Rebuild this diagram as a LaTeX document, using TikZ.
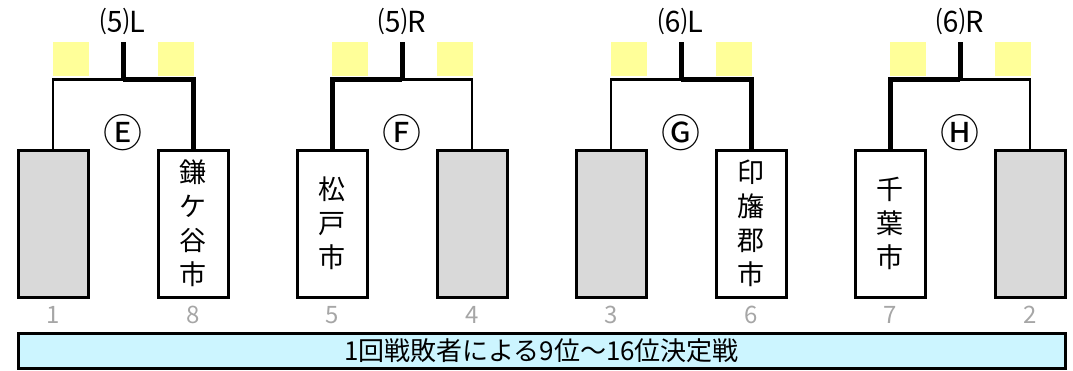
\documentclass[tikz,border=0pt]{standalone}
\usepackage{fontspec}
\setmainfont{Noto Sans CJK JP}
\usepackage{xcolor}
\usepackage{tikz}

\definecolor{seedgray}{HTML}{D9D9D9}
\definecolor{scorebox}{HTML}{FFFF99}
\definecolor{bandcyan}{HTML}{CCF5FF}
\definecolor{numgray}{HTML}{A6A6A6}

\tikzset{
  team/.style={draw, line width=3pt, minimum width=70pt, minimum height=147pt, inner sep=0pt,
    align=center, font=\fontsize{27}{34}\selectfont},
  score/.style={fill=scorebox, minimum width=36pt, minimum height=34pt, inner sep=0pt},
  seedno/.style={text=numgray, font=\fontsize{24}{24}\selectfont},
  thin/.style={line width=2.5pt},
  win/.style={line width=5pt}
}

\begin{document}
\begin{tikzpicture}[x=1pt, y=-1pt]
\useasboundingbox (0,0) rectangle (1073,370);

% one match per round-one pair
\foreach \cx/\rnd/\tag/\ltxt/\lnum/\lfill/\rtxt/\rnum/\rfill/\lw/\rw in {
  123/⑸L/Ⓔ/{}/1/seedgray/{鎌\\ケ\\谷\\市}/8/white/thin/win,
  402/⑸R/Ⓕ/{松\\戸\\市}/5/white/{}/4/seedgray/win/thin,
  681/⑹L/Ⓖ/{}/3/seedgray/{印\\旛\\郡\\市}/6/white/thin/win,
  960/⑹R/Ⓗ/{千\\葉\\市}/7/white/{}/2/seedgray/win/thin}
{
  \node[team, fill=\lfill] (b\lnum) at (\cx-70,223.5) {\ltxt};
  \node[team, fill=\rfill] (b\rnum) at (\cx+70,223.5) {\rtxt};
  \node[seedno] (n\lnum) at (\cx-70,315) {\lnum};
  \node[seedno] (n\rnum) at (\cx+70,315) {\rnum};
  \node[score] (sl\lnum) at (\cx-52,59) {};
  \node[score] (sr\rnum) at (\cx+52.5,59) {};
  \node[font=\fontsize{29}{29}\selectfont] (r\lnum) at (\cx,21) {\rnd};
  \node[font=\fontsize{39}{39}\selectfont] (m\lnum) at (\cx,133) {\tag};
  \coordinate (top\lnum) at (\cx,42);
  \coordinate (join\lnum) at (\cx,79.5);
  \draw[\lw, line join=miter] (join\lnum) -| (b\lnum.north);
  \draw[\rw, line join=miter] (join\lnum) -| (b\rnum.north);
  \draw[win] (top\lnum) -- (join\lnum);
}

% consolation band
\node[draw, line width=3pt, fill=bandcyan, minimum width=1047pt, minimum height=35pt, inner sep=0pt,
  font=\fontsize{26}{26}\selectfont] (band) at (541.5,350.5) {1回戦敗者による9位～16位決定戦};
\end{tikzpicture}
\end{document}
